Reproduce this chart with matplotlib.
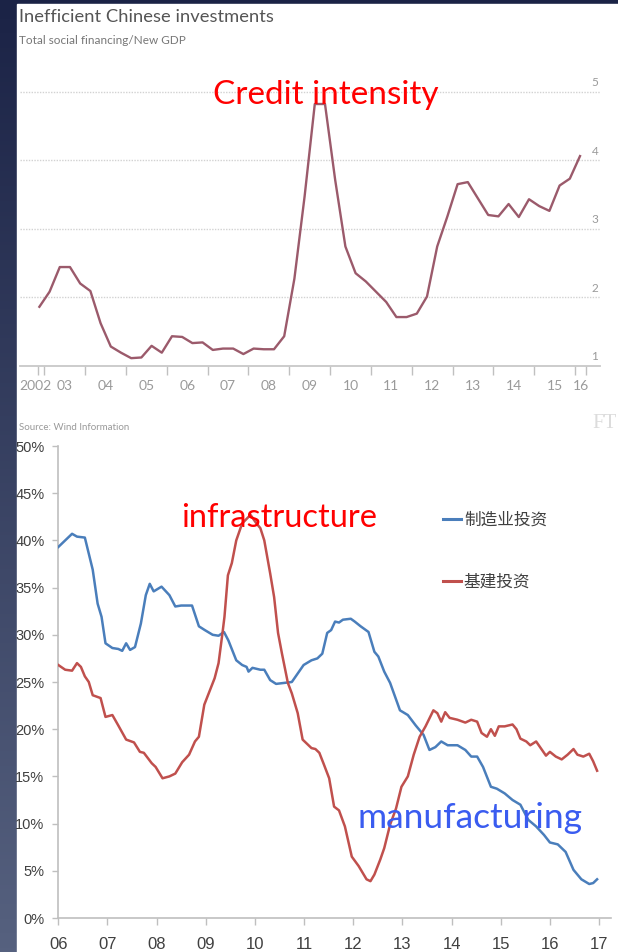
import numpy as np
import matplotlib
matplotlib.use('Agg')
import matplotlib.pyplot as plt
from matplotlib import font_manager
from matplotlib.colors import LinearSegmentedColormap
from matplotlib.patches import Rectangle
from matplotlib.lines import Line2D
from matplotlib.transforms import blended_transform_factory


def pick_font(*names):
    installed = {f.name for f in font_manager.fontManager.ttflist}
    for n in names:
        if n in installed:
            return n
    return 'DejaVu Sans'


# ---- top chart: total social financing / new GDP, quarterly from Q4 2002
credit_start = 2002.875
credit = [1.86, 2.08, 2.44, 2.44, 2.20, 2.09, 1.62, 1.28, 1.19, 1.11,
          1.12, 1.29, 1.19, 1.43, 1.42, 1.33, 1.34, 1.23, 1.25, 1.25,
          1.17, 1.25, 1.24, 1.24, 1.43, 2.27, 3.47, 4.82, 4.82, 3.71,
          2.74, 2.35, 2.23, 2.08, 1.93, 1.71, 1.71, 1.76, 2.01, 2.74,
          3.18, 3.65, 3.68, 3.44, 3.20, 3.18, 3.36, 3.17, 3.43, 3.33,
          3.26, 3.63, 3.73, 4.06]
top_tick_marks = [2002.83] + list(range(2003, 2017)) + [2016.28]
top_label_pos = [2002.78] + [y + 0.5 for y in range(2003, 2016)] + [2016.14]
top_labels = ['2002', '03', '04', '05', '06', '07', '08', '09', '10',
              '11', '12', '13', '14', '15', '16']
top_grid = [2, 3, 4, 5]

# ---- bottom chart: investment growth yoy (%)
manu_t = [2006.00, 2006.14, 2006.28, 2006.38, 2006.54, 2006.70, 2006.80, 2006.88,
          2006.96, 2007.10, 2007.22, 2007.30, 2007.38, 2007.46, 2007.56, 2007.68,
          2007.78, 2007.86, 2007.94, 2008.10, 2008.26, 2008.38, 2008.50, 2008.72,
          2008.86, 2008.98, 2009.14, 2009.26, 2009.37, 2009.46, 2009.62, 2009.74,
          2009.83, 2009.87, 2009.95, 2010.11, 2010.19, 2010.31, 2010.43, 2010.59,
          2010.75, 2010.87, 2010.99, 2011.15, 2011.27, 2011.37, 2011.47, 2011.55,
          2011.63, 2011.71, 2011.79, 2011.95, 2012.03, 2012.15, 2012.31, 2012.43,
          2012.51, 2012.63, 2012.75, 2012.95, 2013.11, 2013.27, 2013.43, 2013.55,
          2013.67, 2013.79, 2013.92, 2014.12, 2014.28, 2014.40, 2014.52, 2014.64,
          2014.80, 2014.92, 2015.08, 2015.24, 2015.40, 2015.56, 2015.72, 2015.88,
          2016.00, 2016.16, 2016.32, 2016.48, 2016.64, 2016.80, 2016.88, 2016.96]
manu = [39.3, 40.0, 40.7, 40.4, 40.3, 36.9, 33.3, 31.9,
        29.1, 28.6, 28.5, 28.3, 29.1, 28.4, 28.7, 31.2,
        34.2, 35.4, 34.6, 35.1, 34.2, 33.0, 33.1, 33.1,
        30.9, 30.5, 30.0, 29.9, 30.3, 29.4, 27.3, 26.8,
        26.6, 26.1, 26.5, 26.3, 26.3, 25.2, 24.8, 24.9,
        25.0, 25.9, 26.8, 27.3, 27.5, 28.0, 30.2, 30.5,
        31.4, 31.3, 31.6, 31.7, 31.4, 30.9, 30.3, 28.2,
        27.7, 26.1, 24.9, 22.0, 21.5, 20.4, 19.4, 17.8,
        18.1, 18.7, 18.3, 18.3, 17.8, 17.1, 17.1, 16.0,
        13.9, 13.7, 13.2, 12.5, 12.0, 10.4, 9.7, 8.8,
        8.0, 7.8, 7.0, 5.1, 4.1, 3.6, 3.7, 4.1]

infra_t = [2006.00, 2006.14, 2006.28, 2006.38, 2006.46, 2006.54, 2006.62, 2006.70,
           2006.86, 2006.96, 2007.10, 2007.22, 2007.38, 2007.54, 2007.66, 2007.74,
           2007.90, 2007.98, 2008.12, 2008.26, 2008.38, 2008.52, 2008.66, 2008.78,
           2008.86, 2008.97, 2009.06, 2009.18, 2009.26, 2009.34, 2009.38, 2009.45,
           2009.53, 2009.62, 2009.74, 2009.91, 2010.03, 2010.11, 2010.19, 2010.31,
           2010.39, 2010.47, 2010.55, 2010.67, 2010.75, 2010.87, 2010.97, 2011.15,
           2011.23, 2011.31, 2011.40, 2011.51, 2011.61, 2011.71, 2011.83, 2011.97,
           2012.11, 2012.27, 2012.35, 2012.43, 2012.55, 2012.63, 2012.75, 2012.87,
           2012.98, 2013.11, 2013.23, 2013.35, 2013.47, 2013.63, 2013.71, 2013.79,
           2013.87, 2013.96, 2014.12, 2014.28, 2014.40, 2014.52, 2014.61, 2014.72,
           2014.80, 2014.88, 2014.96, 2015.08, 2015.24, 2015.32, 2015.40, 2015.52,
           2015.60, 2015.72, 2015.84, 2015.92, 2016.00, 2016.12, 2016.24, 2016.36,
           2016.48, 2016.56, 2016.68, 2016.80, 2016.88, 2016.96]
infra = [26.8, 26.3, 26.2, 27.0, 26.6, 25.6, 25.0, 23.6,
         23.3, 21.3, 21.5, 20.4, 18.9, 18.6, 17.6, 17.5,
         16.4, 16.0, 14.8, 15.0, 15.3, 16.5, 17.3, 18.7,
         19.2, 22.6, 23.8, 25.4, 27.0, 30.2, 31.9, 36.3,
         37.6, 40.0, 41.8, 42.7, 41.8, 41.3, 40.0, 36.5,
         34.0, 30.2, 28.0, 24.9, 23.8, 21.7, 18.9, 18.0,
         17.9, 17.5, 16.3, 14.8, 11.8, 11.4, 9.7, 6.5,
         5.5, 4.1, 3.9, 4.6, 6.2, 7.4, 9.9, 11.6,
         13.9, 15.0, 17.3, 19.2, 20.3, 22.0, 21.7, 20.8,
         21.8, 21.2, 21.0, 20.7, 21.0, 20.8, 19.6, 19.2,
         20.0, 19.3, 20.3, 20.3, 20.5, 20.0, 19.0, 18.7,
         18.3, 18.7, 17.8, 17.2, 17.6, 17.1, 16.8, 17.3,
         17.9, 17.3, 17.1, 17.4, 16.6, 15.6]
bottom_years = list(range(2006, 2018))
bottom_year_labels = ['%02d' % (y % 100) for y in bottom_years]
bottom_pct = list(range(0, 55, 5))
legend_labels = ['制造业投资', '基建投资']

W, H = 618, 952
narrow = pick_font('Liberation Sans Narrow', 'Liberation Sans')
ui = pick_font('Lato', 'Open Sans', 'DejaVu Sans')
cjk = ['Noto Sans CJK SC', 'Noto Sans CJK JP', 'DejaVu Sans']

fig = plt.figure(figsize=(W / 100, H / 100), dpi=100)

# dark slide background with white panel
bg = fig.add_axes([0, 0, 1, 1], zorder=-10)
grad = np.linspace(0, 1, 256).reshape(-1, 1)
cmap = LinearSegmentedColormap.from_list('bg', ['#1b2346', '#56617f'])
bg.imshow(grad, aspect='auto', cmap=cmap, extent=[0, 1, 0, 1], origin='upper')
bg.add_patch(Rectangle((17 / W, 0), 1, (H - 4) / H, color='white'))
bg.set_xlim(0, 1)
bg.set_ylim(0, 1)
bg.axis('off')

# ---------------- top chart ----------------
ax1 = fig.add_axes([20 / W, (H - 365.7) / H, 580 / W, (365.7 - 81.4) / H])
credit_years = credit_start + 0.25 * np.arange(len(credit))
ax1.plot(credit_years, credit, color='#9b5a6b', lw=1.7, zorder=3)
ax1.set_xlim(2002.40, 2016.615)
ax1.set_ylim(1, 5.15)
for s in ['top', 'right', 'left']:
    ax1.spines[s].set_visible(False)
ax1.spines['bottom'].set_color('#c8c8c8')
ax1.spines['bottom'].set_linewidth(1.3)
for v in top_grid:
    ax1.axhline(v, color='#d2d2d2', lw=1, ls=(0, (1, 1)), zorder=0)
ax1.set_yticks([])
ax1.set_xticks(top_tick_marks)
ax1.tick_params(axis='x', which='major', length=6.5, width=1, color='#c0c0c0',
                labelbottom=False)
ax1.set_xticks(top_label_pos, minor=True)
ax1.set_xticklabels(top_labels, minor=True, fontfamily=ui)
ax1.tick_params(axis='x', which='minor', length=0, pad=10, labelsize=10,
                labelcolor='#9a9a9a')
tr = blended_transform_factory(ax1.transAxes, ax1.transData)
for v in [1] + top_grid:
    ax1.text(0.997, v + 0.05, str(v), transform=tr, ha='right', va='bottom',
             fontsize=8.5, color='#9a9a9a', fontfamily=ui)

fig.text(19 / W, 1 - 17 / H, 'Inefficient Chinese investments', fontsize=13.2,
         color='#555555', va='center', fontfamily=ui)
fig.text(19 / W, 1 - 40 / H, 'Total social financing/New GDP', fontsize=8.5,
         color='#777777', va='center', fontfamily=ui)
fig.text(213 / W, 1 - 104 / H, 'Credit intensity', fontsize=24, color='#ff0000',
         va='baseline', fontfamily=ui)
fig.text(19 / W, 1 - 428 / H, 'Source: Wind Information', fontsize=7,
         color='#999999', va='center', fontfamily=ui)
fig.text(617 / W, 1 - 423 / H, 'FT', fontsize=15, color='#dcdcdc', va='center',
         ha='right', fontfamily=pick_font('Liberation Serif', 'DejaVu Serif'))

# ---------------- bottom chart ----------------
ax2 = fig.add_axes([58.3 / W, (H - 918) / H, (611 - 58.3) / W, 472 / H])
ax2.plot(manu_t, manu, color='#4a7ebb', lw=1.8, zorder=3)
ax2.plot(infra_t, infra, color='#c0504d', lw=1.8, zorder=3)
ax2.set_xlim(2006, 2006 + (611 - 58.3) / 49.16)
ax2.set_ylim(0, 50)
for s in ['top', 'right']:
    ax2.spines[s].set_visible(False)
for s in ['left', 'bottom']:
    ax2.spines[s].set_color('#bfbfbf')
    ax2.spines[s].set_linewidth(1.2)
ax2.set_yticks(bottom_pct)
ax2.set_yticklabels(['%d%%' % v for v in bottom_pct], fontfamily=narrow)
ax2.set_xticks(bottom_years)
ax2.set_xticklabels(bottom_year_labels, fontfamily=narrow)
ax2.tick_params(axis='y', length=4, width=1, color='#bfbfbf', pad=6,
                labelsize=10.5, labelcolor='#404040')
ax2.tick_params(axis='x', length=5, width=1, color='#bfbfbf', pad=9,
                labelsize=12, labelcolor='#404040')

handles = [Line2D([], [], color='#4a7ebb', lw=2.2),
           Line2D([], [], color='#c0504d', lw=2.2)]
ax2.legend(handles, legend_labels, loc='upper left',
           bbox_to_anchor=(443 / W, 1 - 512 / H), bbox_transform=fig.transFigure,
           frameon=False, prop={'family': cjk, 'size': 12}, labelcolor='#404040',
           handlelength=1.1, handletextpad=0.15, labelspacing=2.7,
           borderpad=0, borderaxespad=0)

fig.text(181 / W, 1 - 527 / H, 'infrastructure', fontsize=23.5, color='#ff0000',
         va='baseline', fontfamily=ui)
fig.text(357 / W, 1 - 828 / H, 'manufacturing', fontsize=25.5, color='#3a5cf0',
         va='baseline', fontfamily=ui)

fig.savefig('out.png', dpi=100)
